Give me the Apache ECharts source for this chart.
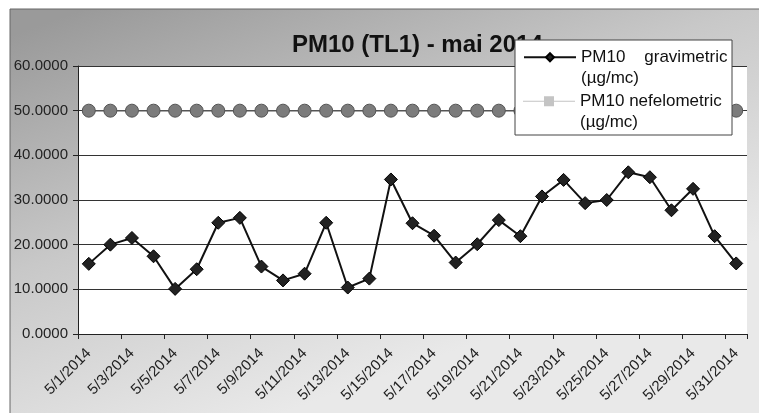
<!DOCTYPE html>
<html>
<head>
<meta charset="utf-8">
<script src="https://cdn.jsdelivr.net/npm/echarts@6/dist/echarts.min.js"></script>
<style>
html,body{margin:0;padding:0;background:#fff;}
#c{width:759px;height:413px;}
</style>
</head>
<body>
<div id="c"></div>
<script>
var categories = ['5/1/2014','5/2/2014','5/3/2014','5/4/2014','5/5/2014','5/6/2014','5/7/2014','5/8/2014','5/9/2014','5/10/2014',
  '5/11/2014','5/12/2014','5/13/2014','5/14/2014','5/15/2014','5/16/2014','5/17/2014','5/18/2014','5/19/2014','5/20/2014',
  '5/21/2014','5/22/2014','5/23/2014','5/24/2014','5/25/2014','5/26/2014','5/27/2014','5/28/2014','5/29/2014','5/30/2014','5/31/2014'];
var gravimetric = [15.7, 20.0, 21.5, 17.4, 10.1, 14.5, 24.9, 26.0, 15.1, 12.0, 13.5, 24.9, 10.4, 12.4,
  34.6, 24.8, 22.0, 16.0, 20.1, 25.5, 21.9, 30.8, 34.5, 29.3, 30.0, 36.2, 35.1, 27.7, 32.5, 21.9, 15.8];
var nefelometric = [50, 50, 50, 50, 50, 50, 50, 50, 50, 50, 50, 50, 50, 50, 50, 50, 50, 50, 50, 50,
  50, 50, 50, 50, 50, 50, 50, 50, 50, 50, 50];
var seriesNames = ['PM10    gravimetric\n(\u00b5g/mc)', 'PM10 nefelometric\n(\u00b5g/mc)'];
var titleText = 'PM10 (TL1) - mai 2014';

var chart = echarts.init(document.getElementById('c'));
var font = 'Liberation Sans, Arial, sans-serif';
var legendText = {fontFamily: font, fontSize: 17, color: '#111', lineHeight: 21.5};
var legendFormatter = function (name) { return ' \n' + name; };
chart.setOption({
  backgroundColor: '#ffffff',
  animation: false,
  textStyle: {fontFamily: font},
  graphic: [
    {type: 'rect', z: -5, shape: {x: 10, y: 9, width: 760, height: 420},
      style: {fill: new echarts.graphic.LinearGradient(0.1, 0, 0.3, 1, [
        {offset: 0, color: '#9a9a9a'}, {offset: 0.5, color: '#c8c8c8'}, {offset: 1, color: '#e9e9e9'}]),
        stroke: '#666', lineWidth: 1}},
    {type: 'text', z: 1, x: 292, y: 33,
      style: {text: titleText, font: 'bold 24px ' + font, fill: '#111', textVerticalAlign: 'top'}},
    {type: 'rect', z: 3, shape: {x: 515, y: 40, width: 217, height: 95},
      style: {fill: '#ffffff', stroke: '#444', lineWidth: 1}}
  ],
  legend: [
    {left: 523, top: 25, padding: 0, orient: 'vertical', itemWidth: 52, itemHeight: 10, z: 4,
      formatter: legendFormatter,
      data: [{name: seriesNames[0]}], textStyle: legendText},
    {left: 523, top: 69, padding: 0, orient: 'vertical', itemWidth: 52, itemHeight: 10, z: 4,
      formatter: legendFormatter,
      data: [{name: seriesNames[1], icon: 'path://M0,4.5H52V5.5H0Z M21,0H31V10H21Z', itemStyle: {color: '#c4c4c4', borderWidth: 0}}],
      textStyle: legendText}
  ],
  grid: {left: 78, right: 12, top: 66, bottom: 79, show: true, backgroundColor: '#ffffff', borderWidth: 0},
  xAxis: {
    type: 'category', data: categories, boundaryGap: true,
    axisLine: {lineStyle: {color: '#222', width: 1}},
    axisTick: {show: true, interval: 1, length: 5, lineStyle: {color: '#222'}},
    axisLabel: {interval: 1, rotate: 45, margin: 17, fontSize: 15, color: '#222', fontFamily: font},
    splitLine: {show: false}
  },
  yAxis: {
    type: 'value', min: 0, max: 60, interval: 10,
    axisLine: {show: true, lineStyle: {color: '#222', width: 1}},
    axisTick: {show: true, length: 5, lineStyle: {color: '#222'}},
    axisLabel: {margin: 10, fontSize: 15, color: '#222', fontFamily: font,
      formatter: function (v) { return v.toFixed(4); }},
    splitLine: {lineStyle: {color: '#333', width: 1.2}}
  },
  series: [
    {name: seriesNames[0], type: 'line', data: gravimetric, symbol: 'diamond', symbolSize: 13,
      lineStyle: {color: '#111', width: 2}, itemStyle: {color: '#222', borderColor: '#000', borderWidth: 1}, z: 3},
    {name: seriesNames[1], type: 'line', data: nefelometric, symbol: 'circle', symbolSize: 13,
      lineStyle: {color: '#555', width: 1.5}, itemStyle: {color: '#7c7c7c', borderColor: '#555', borderWidth: 1}, z: 2}
  ]
});
</script>
</body>
</html>
